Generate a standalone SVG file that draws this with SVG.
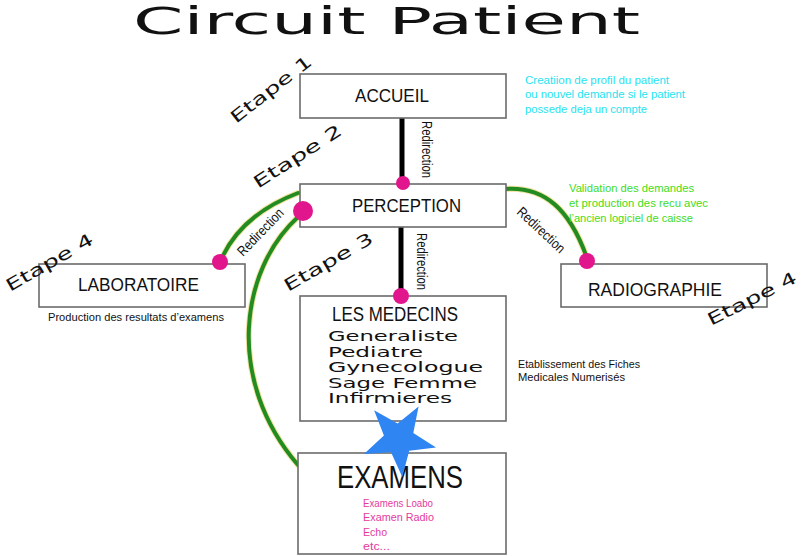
<svg xmlns="http://www.w3.org/2000/svg" width="804" height="556" viewBox="0 0 804 556">
<style>
.box{fill:#fff;stroke:#6b6b6b;stroke-width:1.6}
.lbl{font-family:"Liberation Sans",Arial,sans-serif;fill:#111}
.wide{font-family:"DejaVu Sans",Verdana,sans-serif;fill:#111}
.small{font-family:"Liberation Sans",Arial,sans-serif;font-size:11px}
.red{font-family:"Liberation Sans",Arial,sans-serif;font-size:14px;fill:#111}
.etape{font-family:"DejaVu Sans",Verdana,sans-serif;font-size:17px;fill:#111}
.blk{stroke:#000;stroke-width:5;fill:none}
.grn{stroke:#228b22;stroke-width:4;fill:none;stroke-linecap:round}
.halo{stroke:#f2e3a0;stroke-width:6;fill:none;stroke-linecap:round}
.dot{fill:#e2168c}
</style>
<rect width="804" height="556" fill="#fff"/>
<text class="wide" x="133" y="34" font-size="37" textLength="507" lengthAdjust="spacingAndGlyphs">Circuit Patient</text>

<g id="connectors">
<line class="blk" x1="402" y1="118" x2="402" y2="183"/>
<line class="blk" x1="401" y1="227" x2="401" y2="296"/>
<path class="halo" d="M298,193 Q240,215 220,262"/>
<path class="grn" d="M298,193 Q240,215 220,262"/>
<path class="halo" d="M298,217 C240,270 225,380 298,465"/>
<path class="grn" d="M298,217 C240,270 225,380 298,465"/>
<path class="halo" d="M505,189 C545,186 570,210 587,258"/>
<path class="grn" d="M505,189 C545,186 570,210 587,258"/>
<text class="red" transform="translate(422,121) rotate(90)" textLength="57" lengthAdjust="spacingAndGlyphs">Redirection</text>
<text class="red" transform="translate(417,233) rotate(90)" textLength="57" lengthAdjust="spacingAndGlyphs">Redirection</text>
<text class="red" transform="translate(243,257) rotate(-46)" textLength="60" lengthAdjust="spacingAndGlyphs">Redirection</text>
<text class="red" transform="translate(516,213) rotate(43)" textLength="60" lengthAdjust="spacingAndGlyphs">Redirection</text>
</g>

<g id="accueil">
<rect class="box" x="300" y="74" width="206" height="44"/>
<text class="lbl" x="355" y="102" font-size="19" textLength="74" lengthAdjust="spacingAndGlyphs">ACCUEIL</text>
</g>
<g id="perception">
<rect class="box" x="300" y="184" width="206" height="43"/>
<text class="lbl" x="352" y="212" font-size="19" textLength="109" lengthAdjust="spacingAndGlyphs">PERCEPTION</text>
</g>
<g id="laboratoire">
<rect class="box" x="39" y="264" width="206" height="43"/>
<text class="lbl" x="78" y="291" font-size="19" textLength="121" lengthAdjust="spacingAndGlyphs">LABORATOIRE</text>
</g>
<g id="radiographie">
<rect class="box" x="561" y="264" width="206" height="43"/>
<text class="lbl" x="588" y="296" font-size="19" textLength="134" lengthAdjust="spacingAndGlyphs">RADIOGRAPHIE</text>
</g>
<g id="medecins">
<rect class="box" x="300" y="296" width="206" height="125"/>
<text class="lbl" x="332" y="321" font-size="20" textLength="126" lengthAdjust="spacingAndGlyphs">LES MEDECINS</text>
<g class="wide" font-size="14">
<text x="328" y="341" textLength="130" lengthAdjust="spacingAndGlyphs">Generaliste</text>
<text x="328" y="357" textLength="95" lengthAdjust="spacingAndGlyphs">Pediatre</text>
<text x="328" y="372" textLength="155" lengthAdjust="spacingAndGlyphs">Gynecologue</text>
<text x="328" y="388" textLength="149" lengthAdjust="spacingAndGlyphs">Sage Femme</text>
<text x="328" y="403" textLength="124" lengthAdjust="spacingAndGlyphs">Infirmieres</text>
</g>
</g>
<g id="examens">
<rect class="box" x="298" y="453" width="208" height="101"/>
<text class="lbl" x="337" y="488" font-size="31" textLength="126" lengthAdjust="spacingAndGlyphs">EXAMENS</text>
<g class="small" fill="#e43aa0">
<text x="363" y="507" textLength="70" lengthAdjust="spacingAndGlyphs">Examens Loabo</text>
<text x="363" y="521" textLength="71" lengthAdjust="spacingAndGlyphs">Examen Radio</text>
<text x="363" y="536" textLength="24" lengthAdjust="spacingAndGlyphs">Echo</text>
<text x="363" y="550" textLength="27" lengthAdjust="spacingAndGlyphs">etc...</text>
</g>
</g>

<g id="star">
<polygon fill="#2f86f2" points="374.1,410.3 397.6,423.6 418.6,406.4 413.3,432.9 436,447.5 409.2,450.7 402.3,476.9 391,452.3 364,453.9 383.9,435.5"/>
</g>

<g id="dots">
<circle class="dot" cx="403" cy="183" r="7"/>
<circle class="dot" cx="401" cy="296" r="8"/>
<circle class="dot" cx="220" cy="262" r="8"/>
<circle class="dot" cx="303" cy="211" r="10"/>
<circle class="dot" cx="587" cy="261" r="8"/>
</g>

<g id="etapes">
<text class="etape" transform="translate(236,124) rotate(-38)" textLength="98" lengthAdjust="spacingAndGlyphs">Etape 1</text>
<text class="etape" transform="translate(258,189) rotate(-33)" textLength="102" lengthAdjust="spacingAndGlyphs">Etape 2</text>
<text class="etape" transform="translate(288,292) rotate(-30)" textLength="100" lengthAdjust="spacingAndGlyphs">Etape 3</text>
<text class="etape" transform="translate(10,292) rotate(-30)" textLength="98" lengthAdjust="spacingAndGlyphs">Etape 4</text>
<text class="etape" transform="translate(711,326) rotate(-27)" textLength="98" lengthAdjust="spacingAndGlyphs">Etape 4</text>
</g>

<g id="notes" class="small">
<g fill="#1fe3f0">
<text x="525" y="84" textLength="144" lengthAdjust="spacingAndGlyphs">Creatiion de profil du patient</text>
<text x="525" y="98" textLength="160" lengthAdjust="spacingAndGlyphs">ou nouvel demande si le patient</text>
<text x="525" y="113" textLength="122" lengthAdjust="spacingAndGlyphs">possede deja un compte</text>
</g>
<g fill="#3fdc1c">
<text x="569" y="192" textLength="125" lengthAdjust="spacingAndGlyphs">Validation des demandes</text>
<text x="569" y="207" textLength="139" lengthAdjust="spacingAndGlyphs">et production des recu avec</text>
<text x="569" y="222" textLength="124" lengthAdjust="spacingAndGlyphs">l’ancien logiciel de caisse</text>
</g>
<g fill="#111">
<text x="48" y="321" textLength="176" lengthAdjust="spacingAndGlyphs">Production des resultats d’examens</text>
<text x="518" y="368" textLength="122" lengthAdjust="spacingAndGlyphs">Etablissement des Fiches</text>
<text x="518" y="381" textLength="107" lengthAdjust="spacingAndGlyphs">Medicales  Numerisés</text>
</g>
</g>
</svg>
